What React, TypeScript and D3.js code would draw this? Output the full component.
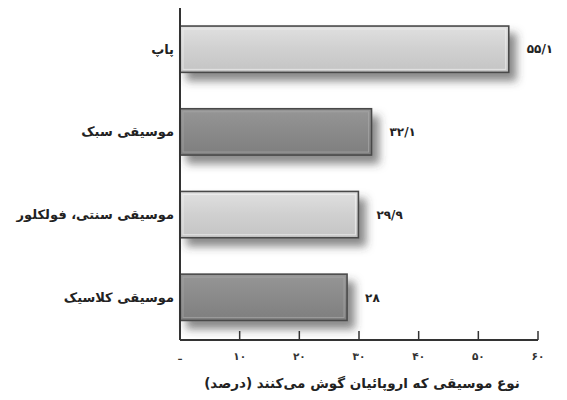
import React from "react";
import * as d3 from "d3";

const categories = ["پاپ", "موسیقی سبک", "موسیقی سنتی، فولکلور", "موسیقی کلاسیک"];
const values = [55.1, 32.1, 29.9, 28];
const valueLabels = ["۵۵/۱", "۳۲/۱", "۲۹/۹", "۲۸"];
const shades = ["light", "dark", "light", "dark"];
const tickValues = [0, 10, 20, 30, 40, 50, 60];
const tickLabels = ["ـ", "۱۰", "۲۰", "۳۰", "۴۰", "۵۰", "۶۰"];
const title = "نوع موسیقی که اروپائیان گوش می‌کنند (درصد)";

const W = 567;
const H = 400;
const FONT = "'DejaVu Sans', 'Noto Sans', sans-serif";

export default function App() {
  const x = d3.scaleLinear().domain([0, 60]).range([180, 538]);
  const y = d3
    .scaleBand<string>()
    .domain(categories)
    .range([9.5, 337])
    .paddingInner(0.44)
    .paddingOuter(0.2);
  const axisY = 340;
  const rtl = { direction: "rtl", unicodeBidi: "plaintext" } as any;

  return (
    <svg
      width={W}
      height={H}
      style={{ position: "absolute", left: 0, top: 0, background: "#fff" }}
    >
      <defs>
        <filter id="shadow" x="-10%" y="-30%" width="130%" height="200%">
          <feDropShadow dx="7" dy="8" stdDeviation="4.5" floodColor="#3a3a3a" floodOpacity="0.6" />
        </filter>
        <linearGradient id="g-light" x1="0" y1="0" x2="0" y2="1">
          <stop offset="0" stopColor="#e0e0e0" />
          <stop offset="0.5" stopColor="#d0d0d0" />
          <stop offset="1" stopColor="#c4c4c4" />
        </linearGradient>
        <linearGradient id="g-dark" x1="0" y1="0" x2="0" y2="1">
          <stop offset="0" stopColor="#969696" />
          <stop offset="0.5" stopColor="#8a8a8a" />
          <stop offset="1" stopColor="#7e7e7e" />
        </linearGradient>
      </defs>

      {categories.map((c, i) => {
        const y0 = y(c) as number;
        const bw = y.bandwidth();
        const x1 = x(values[i]);
        return (
          <g key={c}>
            <rect
              x={x(0)}
              y={y0}
              width={x1 - x(0)}
              height={bw}
              fill={`url(#g-${shades[i]})`}
              stroke="#4a4a4a"
              strokeWidth={1.6}
              filter="url(#shadow)"
            />
            <rect
              x={x(0) + 3}
              y={y0 + 3}
              width={Math.max(0, x1 - x(0) - 6)}
              height={bw - 6}
              fill="none"
              stroke={shades[i] === "light" ? "#f2f2f2" : "#a8a8a8"}
              strokeWidth={1}
              opacity={0.7}
            />
            <text
              x={x1 + 18}
              y={y0 + bw / 2}
              dy="0.35em"
              fontFamily={FONT}
              fontSize={12}
              fontWeight="bold"
              fill="#222"
              textAnchor="start"
            >
              {valueLabels[i]}
            </text>
            <text
              x={174}
              y={y0 + bw / 2}
              dy="0.35em"
              fontFamily={FONT}
              fontSize={13}
              fontWeight="bold"
              fill="#222"
              textAnchor="start"
              style={rtl}
            >
              {c}
            </text>
          </g>
        );
      })}

      {/* y axis */}
      <line x1={x(0)} x2={x(0)} y1={8} y2={axisY} stroke="#333" strokeWidth={2} />
      {/* x axis */}
      <line x1={x(0)} x2={x(60)} y1={axisY} y2={axisY} stroke="#333" strokeWidth={2} />
      {tickValues.map((t, i) => (
        <g key={t}>
          {t > 0 && (
            <line x1={x(t)} x2={x(t)} y1={axisY} y2={axisY - 9} stroke="#333" strokeWidth={1.5} />
          )}
          <text
            x={x(t)}
            y={356}
            dy="0.35em"
            fontFamily={FONT}
            fontSize={10.5}
            fontWeight="bold"
            fill="#333"
            textAnchor="middle"
          >
            {tickLabels[i]}
          </text>
        </g>
      ))}

      <text
        x={362}
        y={383}
        dy="0.35em"
        fontFamily={FONT}
        fontSize={13.5}
        fontWeight="bold"
        fill="#222"
        textAnchor="middle"
        style={rtl}
      >
        {title}
      </text>
    </svg>
  );
}
